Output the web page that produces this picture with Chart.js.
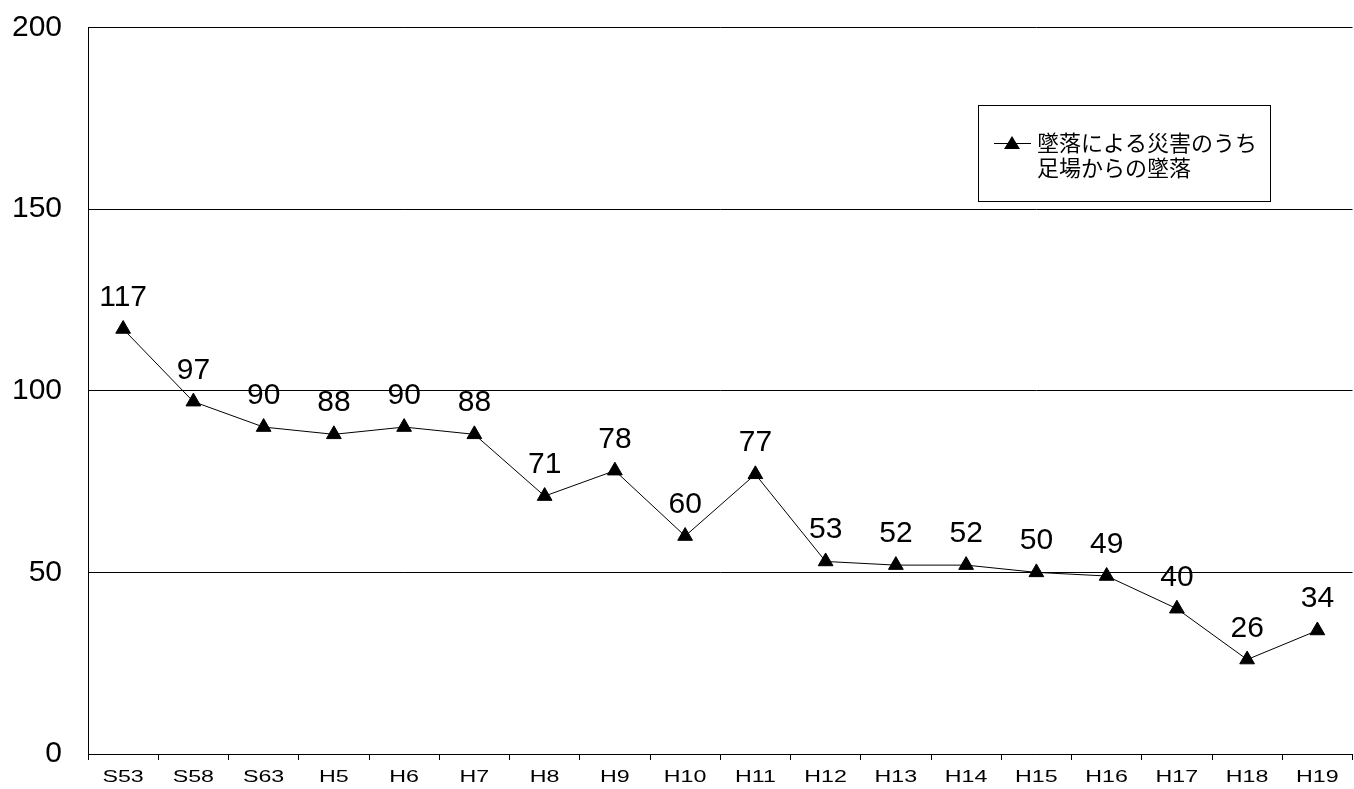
<!DOCTYPE html>
<html>
<head>
<meta charset="utf-8">
<script src="https://cdn.jsdelivr.net/npm/chart.js@4.4.0/dist/chart.umd.min.js"></script>
<style>
  html, body { margin: 0; padding: 0; background: #fff; overflow: hidden; }
  #wrap { position: relative; width: 1362px; height: 789px; }
</style>
</head>
<body>
<div id="wrap"><canvas id="grafico"></canvas></div>
<script>
const categorias = ['S53','S58','S63','H5','H6','H7','H8','H9','H10','H11','H12','H13','H14','H15','H16','H17','H18','H19'];
const valores = [117, 97, 90, 88, 90, 88, 71, 78, 60, 77, 53, 52, 52, 50, 49, 40, 26, 34];
const ticksY = [0, 50, 100, 150, 200];
const nombreSerie = ['墜落による災害のうち', '足場からの墜落'];

const fuenteJP = '"Noto Sans CJK JP", sans-serif';
const fuenteNum = '"Liberation Sans", Arial, sans-serif';

// etiquetas de valor encima de cada punto
const etiquetasPlugin = {
    id: 'etiquetas',
    afterDatasetsDraw(chart) {
        const ctx = chart.ctx;
        const meta = chart.getDatasetMeta(0);
        ctx.save();
        ctx.font = '30px ' + fuenteNum;
        ctx.fillStyle = '#000';
        ctx.textAlign = 'center';
        ctx.textBaseline = 'alphabetic';
        meta.data.forEach((p, i) => {
            ctx.fillText(String(valores[i]), p.x, p.y - 23);
        });
        ctx.restore();
    }
};

// etiquetas del eje x, algo estiradas como en el original
const ejeXPlugin = {
    id: 'ejeX',
    afterDraw(chart) {
        const ctx = chart.ctx;
        const x = chart.scales.x;
        ctx.save();
        ctx.font = '16px ' + fuenteNum;
        ctx.fillStyle = '#000';
        ctx.textAlign = 'center';
        ctx.textBaseline = 'middle';
        categorias.forEach((c, i) => {
            const px = x.getPixelForValue(i);
            ctx.save();
            ctx.translate(px, 778);
            ctx.scale(1.45, 1);
            ctx.fillText(c, 0, 0);
            ctx.restore();
        });
        ctx.restore();
    }
};

// leyenda con recuadro
const leyendaPlugin = {
    id: 'leyendaCaja',
    afterDraw(chart) {
        const ctx = chart.ctx;
        ctx.save();
        ctx.strokeStyle = '#000';
        ctx.lineWidth = 1;
        ctx.strokeRect(978.5, 105.5, 292, 96);
        ctx.beginPath();
        ctx.moveTo(994, 143.5);
        ctx.lineTo(1031, 143.5);
        ctx.stroke();
        ctx.fillStyle = '#000';
        ctx.beginPath();
        ctx.moveTo(1012, 136);
        ctx.lineTo(1020, 149);
        ctx.lineTo(1004, 149);
        ctx.closePath();
        ctx.fill();
        ctx.font = '22px ' + fuenteJP;
        ctx.textAlign = 'left';
        ctx.textBaseline = 'middle';
        ctx.fillText(nombreSerie[0], 1037, 143);
        ctx.fillText(nombreSerie[1], 1037, 168);
        ctx.restore();
    }
};

new Chart(document.getElementById('grafico'), {
    type: 'line',
    data: {
        labels: categorias,
        datasets: [{
            label: nombreSerie.join(''),
            data: valores,
            borderColor: '#000',
            backgroundColor: '#000',
            borderWidth: 1,
            pointStyle: 'triangle',
            pointRadius: 8.5,
            pointHoverRadius: 8.5,
            tension: 0
        }]
    },
    options: {
        responsive: true,
        maintainAspectRatio: false,
        animation: false,
        layout: { padding: { top: 23, right: 0, left: 0, bottom: 0 } },
        plugins: {
            legend: { display: false },
            tooltip: { enabled: false }
        },
        scales: {
            x: {
                offset: true,
                grid: {
                    offset: true,
                    drawOnChartArea: false,
                    drawTicks: true,
                    tickLength: 6,
                    color: '#000'
                },
                border: { color: '#000', width: 1 },
                ticks: {
                    display: false
                },
                afterFit(scale) { scale.height = 35; }
            },
            y: {
                min: 0,
                max: 200,
                afterBuildTicks(scale) {
                    scale.ticks = ticksY.map(v => ({ value: v }));
                },
                grid: {
                    color: '#000',
                    drawTicks: false
                },
                border: { color: '#000', width: 1 },
                ticks: {
                    color: '#000',
                    font: { family: fuenteNum, size: 30, lineHeight: 0.1 },
                    padding: 26
                },
                afterFit(scale) { scale.width = 88; }
            }
        }
    },
    plugins: [etiquetasPlugin, ejeXPlugin, leyendaPlugin]
});
</script>
</body>
</html>
